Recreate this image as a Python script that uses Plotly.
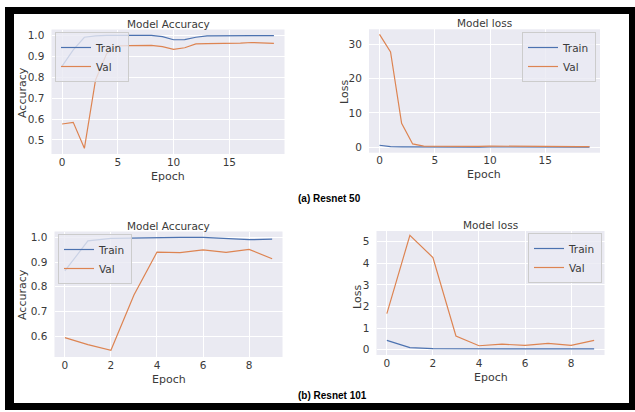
import plotly.graph_objects as go

# ---------------- data ----------------
epochs_r50 = list(range(20))
acc_train_r50 = [0.852, 0.93, 0.99, 0.997, 0.999, 0.999, 0.999, 0.999, 0.999, 0.993,
                 0.978, 0.979, 0.99, 0.997, 0.998, 0.998, 0.998, 0.998, 0.998, 0.998]
acc_val_r50 = [0.576, 0.584, 0.46, 0.786, 0.912, 0.949, 0.95, 0.95, 0.951, 0.945,
               0.932, 0.94, 0.958, 0.96, 0.96, 0.96, 0.962, 0.965, 0.962, 0.961]
loss_train_r50 = [0.58, 0.15, 0.08, 0.05, 0.04, 0.03, 0.03, 0.03, 0.03, 0.04,
                  0.07, 0.06, 0.04, 0.03, 0.03, 0.03, 0.03, 0.03, 0.03, 0.03]
loss_val_r50 = [32.9, 27.8, 7.0, 0.96, 0.3, 0.25, 0.22, 0.22, 0.22, 0.25,
                0.32, 0.28, 0.2, 0.18, 0.18, 0.18, 0.17, 0.16, 0.17, 0.17]

epochs_r101 = list(range(10))
acc_train_r101 = [0.864, 0.985, 0.995, 0.997, 0.999, 0.999, 0.999, 0.995, 0.99, 0.992]
acc_val_r101 = [0.595, 0.567, 0.544, 0.767, 0.94, 0.938, 0.949, 0.939, 0.951, 0.913]
loss_train_r101 = [0.43, 0.09, 0.05, 0.04, 0.03, 0.03, 0.03, 0.03, 0.03, 0.03]
loss_val_r101 = [1.67, 5.3, 4.27, 0.63, 0.18, 0.25, 0.2, 0.29, 0.2, 0.43]

series_names = ["Train", "Val"]
titles = ["Model Accuracy", "Model loss", "Model Accuracy", "Model loss"]
ylabels = ["Accuracy", "Loss", "Accuracy", "Loss"]
xlabel = "Epoch"
captions = ["(a) Resnet 50", "(b) Resnet 101"]

# ---------------- style ----------------
W, H = 635, 412
BLUE = "#4C72B0"
ORANGE = "#DD8452"
BG = "#EAEAF2"
TXT = "#3a3a3a"
FONT = "DejaVu Sans"
FS = 10.5


def px(x):
    return x / W


def py(y):
    return 1 - y / H


# plot boxes in pixels: (left, right, top, bottom)
boxes = [
    (51.5, 284.5, 29.5, 154),
    (369, 600, 29.3, 152.7),
    (54.5, 282.5, 231.5, 357),
    (376.5, 604.5, 231, 355),
]

panels = [
    (epochs_r50, acc_train_r50, acc_val_r50),
    (epochs_r50, loss_train_r50, loss_val_r50),
    (epochs_r101, acc_train_r101, acc_val_r101),
    (epochs_r101, loss_train_r101, loss_val_r101),
]

yranges = [[0.433, 1.027], [-1.6, 34.4], [0.517, 1.023], [-0.25, 5.5]]
xranges = [[-0.95, 19.95], [-0.95, 19.95], [-0.45, 9.45], [-0.45, 9.45]]
yticks = [[0.5, 0.6, 0.7, 0.8, 0.9, 1.0], [0, 10, 20, 30],
          [0.6, 0.7, 0.8, 0.9, 1.0], [0, 1, 2, 3, 4, 5]]
xticks = [[0, 5, 10, 15], [0, 5, 10, 15], [0, 2, 4, 6, 8], [0, 2, 4, 6, 8]]
ytickfmt = [".1f", "d", ".1f", "d"]

legend_pos = [
    dict(x=px(55), y=py(32), xanchor="left", yanchor="top"),
    dict(x=px(596), y=py(32), xanchor="right", yanchor="top"),
    dict(x=px(58), y=py(234), xanchor="left", yanchor="top"),
    dict(x=px(602), y=py(233), xanchor="right", yanchor="top"),
]

fig = go.Figure()
layout = dict(
    width=W, height=H, autosize=False,
    margin=dict(l=0, r=0, t=0, b=0, pad=0),
    paper_bgcolor="white", plot_bgcolor=BG,
    font=dict(family=FONT, size=FS, color=TXT),
    annotations=[], shapes=[],
)

for i, (ep, tr, va) in enumerate(panels):
    n = "" if i == 0 else str(i + 1)
    leg = "legend" if i == 0 else f"legend{i + 1}"
    for name, vals, col in zip(series_names, [tr, va], [BLUE, ORANGE]):
        fig.add_trace(go.Scatter(
            x=ep, y=vals, mode="lines", name=name,
            line=dict(color=col, width=1.2),
            xaxis="x" + n, yaxis="y" + n, legend=leg,
        ))
    l, r, t, b = boxes[i]
    layout["xaxis" + n] = dict(
        domain=[px(l), px(r)], anchor="y" + n, range=xranges[i],
        tickmode="array", tickvals=xticks[i],
        showgrid=True, gridcolor="white", gridwidth=1, zeroline=False,
        showline=False, ticks="",
        tickfont=dict(family=FONT, size=FS, color=TXT),
    )
    layout["yaxis" + n] = dict(
        domain=[py(b), py(t)], anchor="x" + n, range=yranges[i],
        tickmode="array", tickvals=yticks[i], tickformat=ytickfmt[i],
        showgrid=True, gridcolor="white", gridwidth=1, zeroline=False,
        showline=False, ticks="outside", ticklen=4, tickcolor="rgba(0,0,0,0)",
        tickfont=dict(family=FONT, size=FS, color=TXT),
    )
    layout[leg] = dict(
        **legend_pos[i],
        bgcolor="rgba(234,234,242,0.8)", bordercolor="#cccccc", borderwidth=1,
        font=dict(family=FONT, size=FS, color=TXT),
        itemwidth=30, tracegroupgap=0,
    )
    cx = (l + r) / 2
    # title
    layout["annotations"].append(dict(
        text=titles[i], x=px(cx), y=py(t - 6), xref="paper", yref="paper",
        xanchor="center", yanchor="middle", showarrow=False,
        font=dict(family=FONT, size=FS, color=TXT)))
    # x label
    layout["annotations"].append(dict(
        text=xlabel, x=px(cx), y=py(b + 22), xref="paper", yref="paper",
        xanchor="center", yanchor="middle", showarrow=False,
        font=dict(family=FONT, size=FS + 0.5, color=TXT)))

# y labels
ylab_pos = [(22, 93), (344, 92), (22, 295), (357, 297)]
for i, (x, y) in enumerate(ylab_pos):
    layout["annotations"].append(dict(
        text=ylabels[i], x=px(x), y=py(y), xref="paper", yref="paper",
        xanchor="center", yanchor="middle", showarrow=False, textangle=-90,
        font=dict(family=FONT, size=FS + 0.5, color=TXT)))

# captions
cap_pos = [(329.5, 198), (332, 395)]
for txt, (x, y) in zip(captions, cap_pos):
    layout["annotations"].append(dict(
        text="<b>" + txt + "</b>", x=px(x), y=py(y), xref="paper", yref="paper",
        xanchor="center", yanchor="middle", showarrow=False,
        font=dict(family="Liberation Sans", size=10, color="black")))

# black frame
frame = [(5, 635, 7, 14), (5, 14, 7, 410), (629, 635, 7, 410), (5, 635, 403, 410)]
for x0, x1, y0, y1 in frame:
    layout["shapes"].append(dict(
        type="rect", xref="paper", yref="paper",
        x0=px(x0), x1=px(x1), y0=py(y1), y1=py(y0),
        fillcolor="black", line=dict(width=0), layer="above"))

fig.update_layout(**layout)
fig.write_html(
    "out.html",
    config={"displayModeBar": False},
    post_script="document.body.style.margin='0';document.body.style.overflow='hidden';",
)
